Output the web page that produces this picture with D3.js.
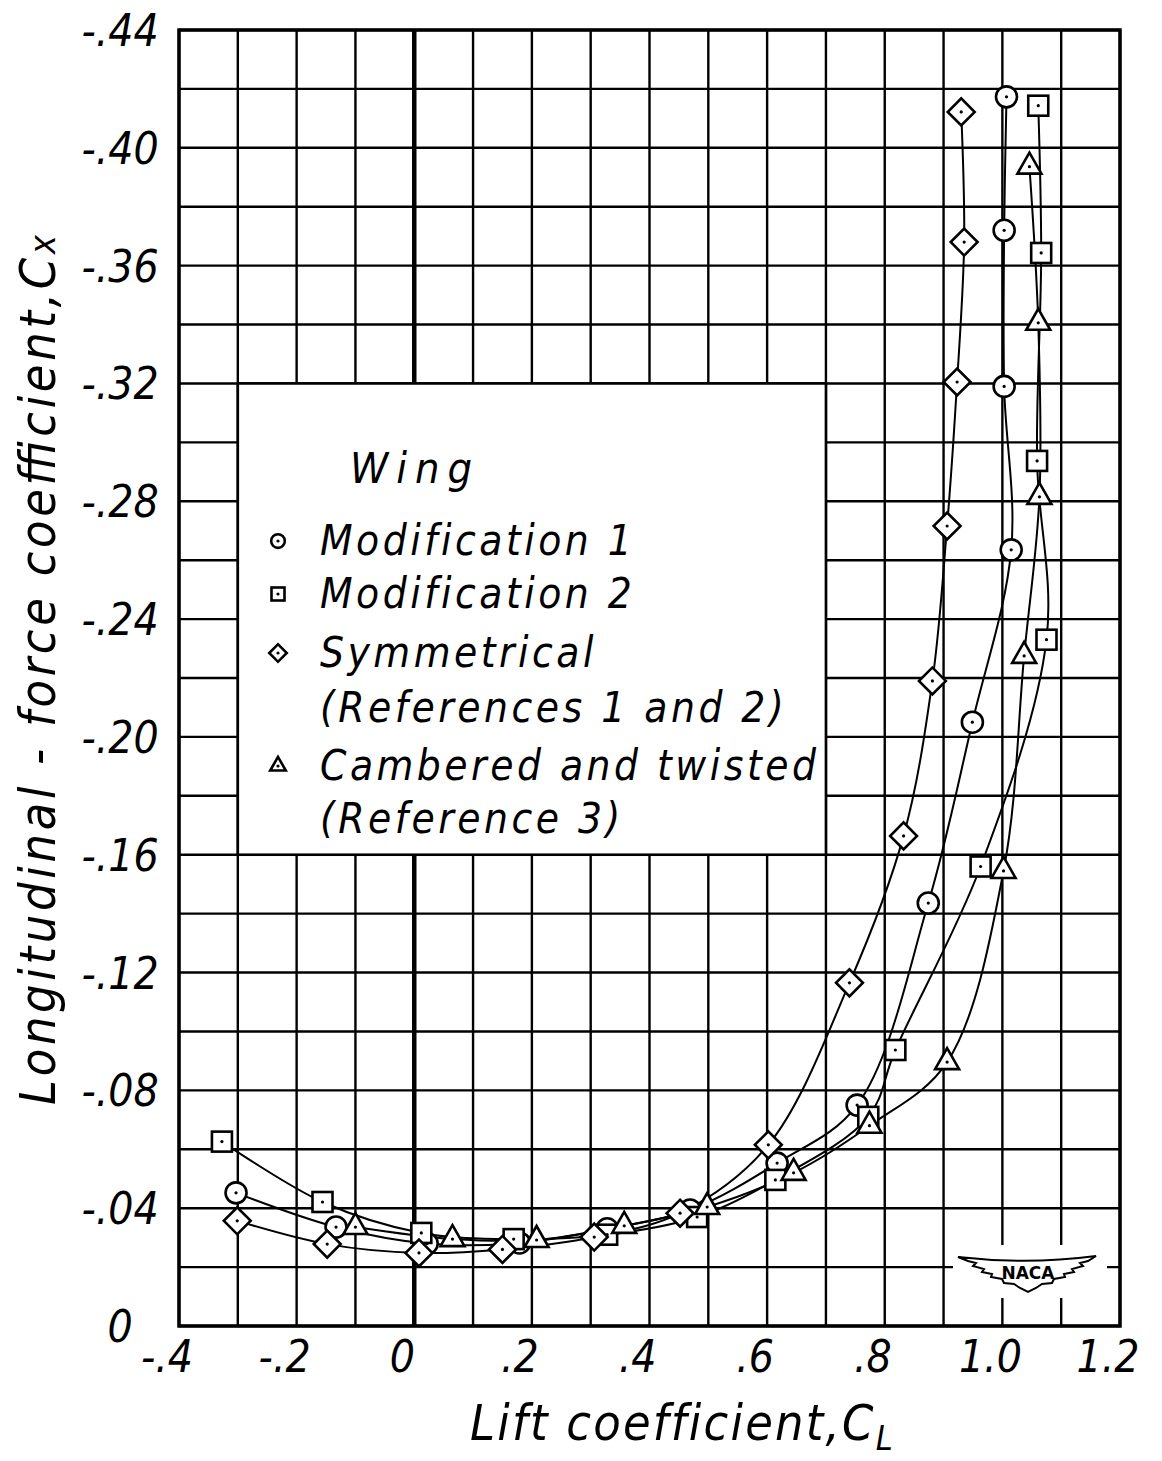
<!DOCTYPE html>
<html lang="en">
<head>
<meta charset="UTF-8">
<title>Longitudinal-force coefficient vs lift coefficient</title>
<script src="https://cdn.jsdelivr.net/npm/d3@7/dist/d3.min.js"></script>
<style>
  body { margin: 0; background: #fff; }
  text { font-family: "DejaVu Sans Condensed", "DejaVu Sans", sans-serif; font-style: italic; fill: #000; }
</style>
</head>
<body>
<svg width="1162" height="1461"></svg>
<script>
// tick values and labels
var xTicks = [-0.4, -0.2, 0, 0.2, 0.4, 0.6, 0.8, 1.0, 1.2];
var xTickLabels = ["-.4", "-.2", "0", ".2", ".4", ".6", ".8", "1.0", "1.2"];
var yTicks = [0, -0.04, -0.08, -0.12, -0.16, -0.20, -0.24, -0.28, -0.32, -0.36, -0.40, -0.44];
var yTickLabels = ["0", "-.04", "-.08", "-.12", "-.16", "-.20", "-.24", "-.28", "-.32", "-.36", "-.40", "-.44"];

// Modification 1 (circles)
var mod1CL = [-0.303, -0.133, 0.022, 0.179, 0.328, 0.469, 0.617, 0.753, 0.874, 0.949, 1.015, 1.003, 1.003, 1.007];
var mod1Cx = [-0.0452, -0.0336, -0.0280, -0.0282, -0.0330, -0.0394, -0.0553, -0.0750, -0.1436, -0.2050, -0.2635, -0.3190, -0.3720, -0.4173];
// Modification 2 (squares)
var mod2CL = [-0.327, -0.156, 0.012, 0.169, 0.328, 0.481, 0.614, 0.772, 0.818, 0.963, 1.075, 1.059, 1.066, 1.061];
var mod2Cx = [-0.0626, -0.0421, -0.0316, -0.0295, -0.0310, -0.0370, -0.0496, -0.0710, -0.0937, -0.1560, -0.2330, -0.2937, -0.3643, -0.4143];
// Symmetrical (diamonds)
var symCL = [-0.301, -0.148, 0.008, 0.150, 0.306, 0.452, 0.602, 0.740, 0.832, 0.881, 0.906, 0.923, 0.935, 0.930];
var symCx = [-0.0357, -0.0278, -0.0248, -0.0260, -0.0302, -0.0383, -0.0615, -0.1165, -0.1664, -0.2190, -0.2716, -0.3205, -0.3680, -0.4122];
// Cambered and twisted (triangles)
var camCL = [-0.100, 0.065, 0.208, 0.357, 0.498, 0.645, 0.774, 0.906, 1.002, 1.037, 1.063, 1.061, 1.046];
var camCx = [-0.0336, -0.0295, -0.0292, -0.0340, -0.0404, -0.0520, -0.0680, -0.0896, -0.1545, -0.2275, -0.2815, -0.3406, -0.3936];

var legendTitle = "Wing";
var legendNames = ["Modification 1", "Modification 2", "Symmetrical", "(References 1 and 2)", "Cambered and twisted", "(Reference 3)"];

var svg = d3.select("svg");

var xScale = d3.scaleLinear().domain([-0.4, 1.2]).range([179, 1120]);
var yScale = d3.scaleLinear().domain([0, -0.44]).range([1326, 30]);

// grid
var grid = svg.append("g").attr("stroke", "#000").attr("stroke-width", 2.4);
grid.selectAll("line.v")
    .data(xScale.ticks(16))
    .enter().append("line")
    .attr("x1", function (d) { return xScale(d); })
    .attr("x2", function (d) { return xScale(d); })
    .attr("y1", yScale(0))
    .attr("y2", yScale(-0.44))
    .attr("stroke-width", function (d) { return Math.abs(d) < 1e-9 ? 4.5 : 2.4; });
grid.selectAll("line.h")
    .data(yScale.ticks(22))
    .enter().append("line")
    .attr("y1", function (d) { return yScale(d); })
    .attr("y2", function (d) { return yScale(d); })
    .attr("x1", xScale(-0.4))
    .attr("x2", xScale(1.2));

// frame
svg.append("rect")
    .attr("x", xScale(-0.4)).attr("y", yScale(-0.44))
    .attr("width", xScale(1.2) - xScale(-0.4))
    .attr("height", yScale(0) - yScale(-0.44))
    .attr("fill", "none").attr("stroke", "#000").attr("stroke-width", 3.5);

// legend box (covers grid)
var lx0 = xScale(-0.3), lx1 = xScale(0.7), ly0 = yScale(-0.32), ly1 = yScale(-0.16);
svg.append("rect")
    .attr("x", lx0).attr("y", ly0)
    .attr("width", lx1 - lx0).attr("height", ly1 - ly0)
    .attr("fill", "#fff").attr("stroke", "#000").attr("stroke-width", 2.6);

// NACA logo area
var logo = svg.append("g").attr("transform", "translate(1028,1271)");
logo.append("rect").attr("x", -75).attr("y", -26).attr("width", 154).attr("height", 53).attr("fill", "#fff");
logo.append("path")
    .attr("d", "M-70,-14 Q0,-6 68,-15 L60,-10 L52,-8 L55,-5 L44,-2 L46,1 L36,3 L37,6 L26,8 L24,12 L14,13 L8,17 L0,21 L-8,17 L-14,13 L-24,12 L-26,8 L-37,6 L-36,3 L-46,1 L-44,-2 L-55,-5 L-52,-8 L-60,-10 Z")
    .attr("fill", "#fff").attr("stroke", "#000").attr("stroke-width", 2);
logo.append("text").attr("x", 0).attr("y", 8).attr("text-anchor", "middle")
    .style("font-style", "normal").style("font-family", "'DejaVu Sans', sans-serif")
    .attr("font-weight", "bold").attr("font-size", 17).text("NACA");

// curves
var line = d3.line()
    .x(function (d) { return xScale(d[0]); })
    .y(function (d) { return yScale(d[1]); })
    .curve(d3.curveCatmullRom.alpha(0.5));

var series = [
    { cl: mod1CL, cx: mod1Cx, shape: "circle" },
    { cl: mod2CL, cx: mod2Cx, shape: "square" },
    { cl: symCL, cx: symCx, shape: "diamond" },
    { cl: camCL, cx: camCx, shape: "triangle" }
];

series.forEach(function (s) {
    s.points = s.cl.map(function (v, i) { return [v, s.cx[i]]; });
    svg.append("path")
        .datum(s.points)
        .attr("d", line)
        .attr("fill", "none").attr("stroke", "#000").attr("stroke-width", 2);
});

function drawMarker(g, shape, scale) {
    var k = scale || 1;
    if (shape === "circle") {
        g.append("circle").attr("r", 10.5 * k);
    } else if (shape === "square") {
        g.append("rect").attr("x", -10 * k).attr("y", -10 * k).attr("width", 20 * k).attr("height", 20 * k);
    } else if (shape === "diamond") {
        g.append("rect").attr("x", -9.5 * k).attr("y", -9.5 * k).attr("width", 19 * k).attr("height", 19 * k)
            .attr("transform", "rotate(45)");
    } else {
        var h = 21 * k, w = 24 * k;
        g.append("path").attr("d", "M0," + (-h * 2 / 3) + "L" + (w / 2) + "," + (h / 3) + "L" + (-w / 2) + "," + (h / 3) + "Z");
    }
    g.selectAll("circle,rect,path").attr("fill", "#fff").attr("stroke", "#000").attr("stroke-width", 2.6);
    g.append("circle").attr("r", 1.6).attr("fill", "#000").attr("stroke", "none");
}

series.forEach(function (s) {
    svg.append("g").selectAll("g")
        .data(s.points)
        .enter().append("g")
        .attr("transform", function (d) { return "translate(" + xScale(d[0]) + "," + yScale(d[1]) + ")"; })
        .each(function () { drawMarker(d3.select(this), s.shape, 1); });
});

// tick labels
svg.append("g").selectAll("text")
    .data(xTicks)
    .enter().append("text")
    .attr("x", function (d) { return xScale(d) - 12; })
    .attr("y", 1372)
    .attr("text-anchor", "middle")
    .attr("font-size", 44)
    .text(function (d, i) { return xTickLabels[i]; });

svg.append("g").selectAll("text")
    .data(yTicks)
    .enter().append("text")
    .attr("x", 120)
    .attr("y", function (d) { return yScale(d) + 16; })
    .attr("text-anchor", "middle")
    .attr("font-size", 44)
    .text(function (d, i) { return yTickLabels[i]; });

// axis titles
var xt = svg.append("text")
    .attr("x", 470).attr("y", 1440)
    .attr("font-size", 50)
    .attr("letter-spacing", 2.2);
xt.append("tspan").text("Lift coefficient,C");
xt.append("tspan").attr("dy", 10).attr("font-size", 34).text("L");

var yt = svg.append("text")
    .attr("transform", "translate(55,1105) rotate(-90)")
    .attr("font-size", 50)
    .attr("textLength", 870)
    .attr("lengthAdjust", "spacing");
yt.append("tspan").text("Longitudinal - force coefficient,C");
yt.append("tspan").attr("font-size", 36).text("x");

// legend
svg.append("text").attr("x", 350).attr("y", 483).attr("font-size", 43)
    .attr("letter-spacing", 8).text(legendTitle);
var rowY = [555, 608, 667, 722, 780, 833];
var rowShape = ["circle", "square", "diamond", null, "triangle", null];
legendNames.forEach(function (name, i) {
    svg.append("text").attr("x", 320).attr("y", rowY[i]).attr("font-size", 42)
        .attr("letter-spacing", 3.5).text(name);
    if (rowShape[i]) {
        var g = svg.append("g").attr("transform", "translate(278," + (rowY[i] - 14) + ")");
        drawMarker(g, rowShape[i], 0.65);
    }
});
</script>
</body>
</html>
